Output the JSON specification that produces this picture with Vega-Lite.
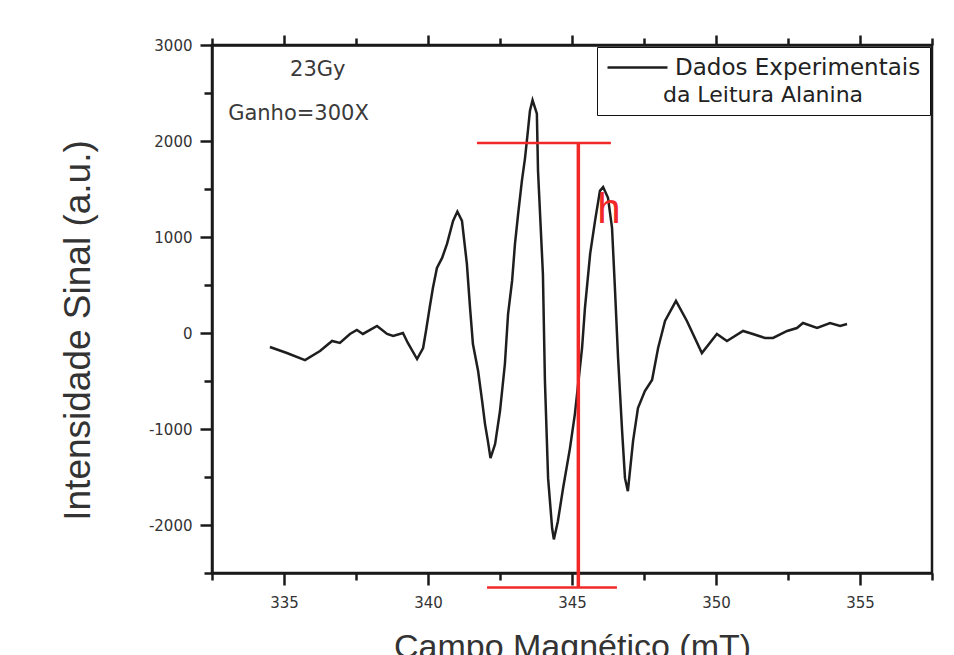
{
  "$schema": "https://vega.github.io/schema/vega-lite/v6.json",
  "width": 720,
  "height": 528,
  "autosize": {"type": "none"},
  "padding": {"left": 212, "top": 45, "right": 22, "bottom": 82},
  "background": "white",
  "datasets": {
    "curve": [
      {"campo": 334.51, "sinal": -146},
      {"campo": 335.1, "sinal": -208},
      {"campo": 335.73, "sinal": -282},
      {"campo": 336.25, "sinal": -188},
      {"campo": 336.67, "sinal": -83},
      {"campo": 336.94, "sinal": -104},
      {"campo": 337.29, "sinal": -10},
      {"campo": 337.53, "sinal": 31},
      {"campo": 337.74, "sinal": -10},
      {"campo": 338.23, "sinal": 73},
      {"campo": 338.58, "sinal": -10},
      {"campo": 338.79, "sinal": -31},
      {"campo": 339.13, "sinal": 0},
      {"campo": 339.3, "sinal": -104},
      {"campo": 339.62, "sinal": -271},
      {"campo": 339.83, "sinal": -156},
      {"campo": 339.93, "sinal": 21},
      {"campo": 340.05, "sinal": 250},
      {"campo": 340.17, "sinal": 469},
      {"campo": 340.31, "sinal": 678},
      {"campo": 340.49, "sinal": 782},
      {"campo": 340.66, "sinal": 928},
      {"campo": 340.87, "sinal": 1168},
      {"campo": 341.02, "sinal": 1265},
      {"campo": 341.18, "sinal": 1168},
      {"campo": 341.35, "sinal": 720},
      {"campo": 341.46, "sinal": 261},
      {"campo": 341.56, "sinal": -115},
      {"campo": 341.74, "sinal": -396},
      {"campo": 341.88, "sinal": -709},
      {"campo": 341.98, "sinal": -949},
      {"campo": 342.08, "sinal": -1126},
      {"campo": 342.17, "sinal": -1303},
      {"campo": 342.33, "sinal": -1157},
      {"campo": 342.5, "sinal": -813},
      {"campo": 342.67, "sinal": -323},
      {"campo": 342.78, "sinal": 198},
      {"campo": 342.92, "sinal": 542},
      {"campo": 343.02, "sinal": 928},
      {"campo": 343.13, "sinal": 1241},
      {"campo": 343.26, "sinal": 1585},
      {"campo": 343.37, "sinal": 1825},
      {"campo": 343.47, "sinal": 2107},
      {"campo": 343.54, "sinal": 2315},
      {"campo": 343.63, "sinal": 2425},
      {"campo": 343.78, "sinal": 2284},
      {"campo": 343.82, "sinal": 1690},
      {"campo": 343.99, "sinal": 615},
      {"campo": 344.06, "sinal": -500},
      {"campo": 344.17, "sinal": -1512},
      {"campo": 344.31, "sinal": -2034},
      {"campo": 344.37, "sinal": -2150},
      {"campo": 344.51, "sinal": -1961},
      {"campo": 344.69, "sinal": -1617},
      {"campo": 344.93, "sinal": -1199},
      {"campo": 345.1, "sinal": -845},
      {"campo": 345.35, "sinal": -156},
      {"campo": 345.45, "sinal": 261},
      {"campo": 345.63, "sinal": 824},
      {"campo": 345.8, "sinal": 1168},
      {"campo": 345.97, "sinal": 1481},
      {"campo": 346.08, "sinal": 1520},
      {"campo": 346.25, "sinal": 1408},
      {"campo": 346.39, "sinal": 1095},
      {"campo": 346.49, "sinal": 469},
      {"campo": 346.6, "sinal": -261},
      {"campo": 346.74, "sinal": -1022},
      {"campo": 346.84, "sinal": -1512},
      {"campo": 346.94, "sinal": -1648},
      {"campo": 347.12, "sinal": -1126},
      {"campo": 347.29, "sinal": -782},
      {"campo": 347.53, "sinal": -605},
      {"campo": 347.78, "sinal": -490},
      {"campo": 347.99, "sinal": -156},
      {"campo": 348.23, "sinal": 125},
      {"campo": 348.61, "sinal": 334},
      {"campo": 348.99, "sinal": 125},
      {"campo": 349.51, "sinal": -209},
      {"campo": 350.03, "sinal": -10},
      {"campo": 350.38, "sinal": -83},
      {"campo": 350.94, "sinal": 21},
      {"campo": 351.28, "sinal": -10},
      {"campo": 351.7, "sinal": -52},
      {"campo": 351.98, "sinal": -52},
      {"campo": 352.47, "sinal": 21},
      {"campo": 352.81, "sinal": 52},
      {"campo": 353.02, "sinal": 104},
      {"campo": 353.51, "sinal": 52},
      {"campo": 353.96, "sinal": 104},
      {"campo": 354.31, "sinal": 73},
      {"campo": 354.55, "sinal": 94}
    ],
    "hrules": [
      {"x": 341.7, "x2": 346.35, "y": 1980},
      {"x": 342.05, "x2": 346.56, "y": -2650}
    ],
    "vrules": [
      {"x": 345.22, "y": 1980, "y2": -2650}
    ],
    "hmark": [
      {"x": 345.88, "y": 1147, "label": "h"}
    ],
    "notes": [
      {"x": 335.21, "y": 2735, "label": "23Gy"},
      {"x": 333.06, "y": 2286, "label": "Ganho=300X"}
    ]
  },
  "layer": [
    {
      "data": {"name": "curve"},
      "mark": {"type": "line", "strokeWidth": 2.5},
      "encoding": {
        "x": {
          "field": "campo", "type": "quantitative",
          "scale": {"domain": [332.5, 357.5], "nice": false, "zero": false},
          "axis": {
            "orient": "bottom",
            "values": [332.5, 335, 337.5, 340, 342.5, 345, 347.5, 350, 352.5, 355, 357.5],
            "labelExpr": "datum.value % 5 === 0 ? '' + datum.value : ''",
            "tickSize": {"condition": {"test": "datum.value % 5 === 0", "value": 12}, "value": 7},
            "labelPadding": 10,
            "title": "Campo Magnético (mT)",
            "titleY": 57,
            "titleBaseline": "top"
          }
        },
        "y": {
          "field": "sinal", "type": "quantitative",
          "scale": {"domain": [-2500, 3000], "nice": false, "zero": false},
          "axis": {
            "orient": "left",
            "values": [-2500, -2000, -1500, -1000, -500, 0, 500, 1000, 1500, 2000, 2500, 3000],
            "labelExpr": "datum.value % 1000 === 0 ? '' + datum.value : ''",
            "tickSize": {"condition": {"test": "datum.value % 1000 === 0", "value": 12}, "value": 8},
            "labelPadding": 8,
            "title": "Intensidade Sinal (a.u.)",
            "titleX": -134,
            "titleY": 285,
            "titleAngle": -90,
            "titleAlign": "center",
            "titleBaseline": "middle",
            "titleFontSize": 37
          }
        },
        "color": {
          "datum": "Dados Experimentais",
          "scale": {"range": ["#1e1e1e"]},
          "legend": {
            "orient": "top-right",
            "offset": 2,
            "title": "da Leitura Alanina",
            "titleOrient": "bottom",
            "titleAnchor": "middle",
            "titleFont": "DejaVu Sans",
            "titleFontSize": 22,
            "titleFontWeight": "normal",
            "titleColor": "#222",
            "titlePadding": 5,
            "titleLimit": 500,
            "symbolType": "M-3,0H3",
            "symbolSize": 400,
            "symbolOffset": 20,
            "symbolStrokeWidth": 2.5,
            "symbolFillColor": "transparent",
            "labelFontSize": 23,
            "labelFont": "DejaVu Sans",
            "labelLimit": 500,
            "labelOffset": 26,
            "labelColor": "#222",
            "padding": 9,
            "strokeColor": "#111",
            "fillColor": "white"
          }
        }
      }
    },
    {
      "data": {"name": "hrules"},
      "mark": {"type": "rule", "color": "#f02828", "strokeWidth": 2.5},
      "encoding": {
        "x": {
          "field": "x", "type": "quantitative",
          "scale": {"domain": [332.5, 357.5], "nice": false, "zero": false},
          "axis": {
            "orient": "top",
            "values": [332.5, 335, 337.5, 340, 342.5, 345, 347.5, 350, 352.5, 355, 357.5],
            "labels": false,
            "title": null,
            "tickSize": {"condition": {"test": "datum.value % 5 === 0", "value": 10}, "value": 7}
          }
        },
        "x2": {"field": "x2"},
        "y": {
          "field": "y", "type": "quantitative",
          "scale": {"domain": [-2500, 3000], "nice": false, "zero": false},
          "axis": null
        }
      }
    },
    {
      "data": {"name": "vrules"},
      "mark": {"type": "rule", "color": "#f02828", "strokeWidth": 3.5},
      "encoding": {
        "x": {
          "field": "x", "type": "quantitative",
          "scale": {"domain": [332.5, 357.5], "nice": false, "zero": false},
          "axis": null
        },
        "y": {
          "field": "y", "type": "quantitative",
          "scale": {"domain": [-2500, 3000], "nice": false, "zero": false},
          "axis": null
        },
        "y2": {"field": "y2"}
      }
    },
    {
      "data": {"name": "hmark"},
      "mark": {"type": "text", "color": "#f02828", "fontSize": 42, "font": "Liberation Sans", "align": "left", "baseline": "alphabetic"},
      "encoding": {
        "x": {
          "field": "x", "type": "quantitative",
          "scale": {"domain": [332.5, 357.5], "nice": false, "zero": false},
          "axis": null
        },
        "y": {
          "field": "y", "type": "quantitative",
          "scale": {"domain": [-2500, 3000], "nice": false, "zero": false},
          "axis": null
        },
        "text": {"field": "label"}
      }
    },
    {
      "data": {"name": "notes"},
      "mark": {"type": "text", "color": "#3a3a3a", "fontSize": 21, "font": "DejaVu Sans", "align": "left", "baseline": "middle"},
      "encoding": {
        "x": {
          "field": "x", "type": "quantitative",
          "scale": {"domain": [332.5, 357.5], "nice": false, "zero": false},
          "axis": null
        },
        "y": {
          "field": "y", "type": "quantitative",
          "scale": {"domain": [-2500, 3000], "nice": false, "zero": false},
          "axis": null
        },
        "text": {"field": "label"}
      }
    }
  ],
  "resolve": {"axis": {"x": "independent", "y": "independent"}},
  "config": {
    "view": {"stroke": "#1a1a1a", "strokeWidth": 2.5},
    "axis": {
      "grid": false,
      "domainColor": "#1a1a1a",
      "domainWidth": 2.5,
      "tickColor": "#1a1a1a",
      "tickWidth": 2.5,
      "labelFont": "DejaVu Sans",
      "labelFontSize": 15,
      "labelColor": "#333",
      "labelOverlap": false,
      "labelFlush": false,
      "labelBound": false,
      "titleFont": "Liberation Sans",
      "titleFontSize": 34,
      "titleFontWeight": "normal",
      "titleColor": "#333"
    }
  }
}
